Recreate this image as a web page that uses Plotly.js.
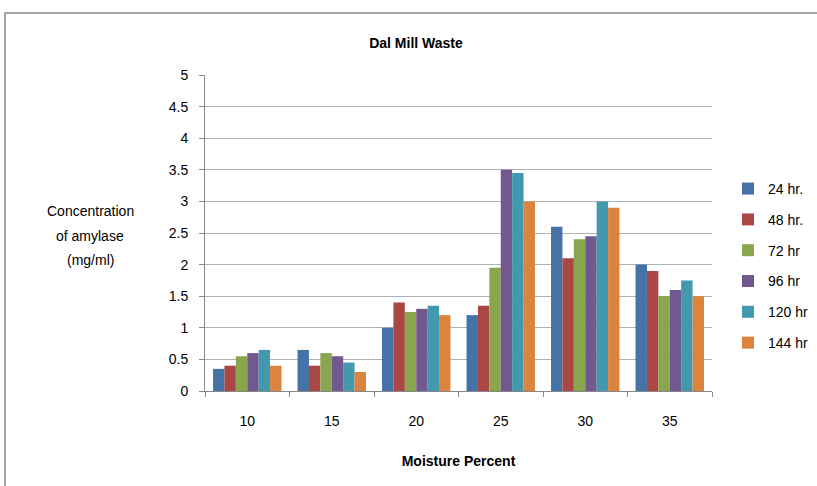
<!DOCTYPE html>
<html><head><meta charset="utf-8">
<script src="https://cdn.plot.ly/plotly-3.0.1.min.js"></script>
<style>body{margin:0;background:#fff}#c{width:817px;height:486px}</style>
</head><body><div id="c"></div>
<script>
const categories = ['10','15','20','25','30','35'];
const seriesNames = ['24 hr.','48 hr.','72 hr','96 hr','120 hr','144 hr'];
const v24 = [0.35,0.65,1.0,1.2,2.6,2.0];
const v48 = [0.4,0.4,1.4,1.35,2.1,1.9];
const v72 = [0.55,0.6,1.25,1.95,2.4,1.5];
const v96 = [0.6,0.55,1.3,3.5,2.45,1.6];
const v120 = [0.65,0.45,1.35,3.45,3.0,1.75];
const v144 = [0.4,0.3,1.2,3.0,2.9,1.5];
const yTicks = [0,0.5,1,1.5,2,2.5,3,3.5,4,4.5,5];
const yTitleLines = ['Concentration','of amylase','(mg/ml)'];
const colors = ['#4572A7','#AA4643','#89A54E','#71588F','#4198AF','#DB843D'];
const values = [v24,v48,v72,v96,v120,v144];
const font = 'Liberation Sans, Arial, sans-serif';
const traces = values.map((v,i)=>({type:'bar',x:categories,y:v,name:seriesNames[i],
  legendgroup:'g'+i,marker:{color:colors[i]}}));
const L=205,R=105,T=75,B=95,W=817-L-R,H=486-T-B;
const px=x=>(x-L)/W, py=y=>(486-B-y)/H;
const yTitleY=[211,236,260];
Plotly.newPlot('c',traces,{
  width:817,height:486,margin:{l:L,r:R,t:T,b:B,autoexpand:false},
  paper_bgcolor:'#fff',plot_bgcolor:'#fff',
  font:{family:font,size:14,color:'#000'},
  bargap:0.19,bargroupgap:0,barmode:'group',
  title:{text:'<b>Dal Mill Waste</b>',font:{family:font,size:14},xref:'paper',x:px(416),xanchor:'center',y:1-43/486,yanchor:'middle'},
  xaxis:{type:'category',showgrid:false,showline:true,linecolor:'#888',ticks:'outside',tickson:'boundaries',ticklen:5,tickcolor:'#888',
    ticklabelstandoff:17,
    title:{text:'<b>Moisture Percent</b>',font:{family:font,size:14},standoff:28},tickfont:{size:14}},
  yaxis:{range:[0,5],tickvals:yTicks,ticktext:yTicks.map(String),showgrid:true,gridcolor:'#b0b0b0',showline:true,linecolor:'#888',
    ticks:'outside',ticklen:5,tickcolor:'#888',zeroline:false,tickfont:{size:14},ticklabelstandoff:8},
  legend:{x:px(728),y:py(173),xanchor:'left',yanchor:'top',traceorder:'grouped',tracegroupgap:9.6,font:{size:14},itemwidth:30},
  annotations:yTitleLines.map((t,i)=>({xref:'paper',yref:'paper',x:px(90),y:py(yTitleY[i]),text:t,showarrow:false,
    font:{family:font,size:14},xanchor:'center',yanchor:'middle'})),
  shapes:[{type:'rect',xref:'paper',yref:'paper',x0:px(5),x1:px(830),y0:py(500),y1:py(13),line:{color:'#888',width:1.5}}]
},{displayModeBar:false,staticPlot:true});
</script></body></html>
